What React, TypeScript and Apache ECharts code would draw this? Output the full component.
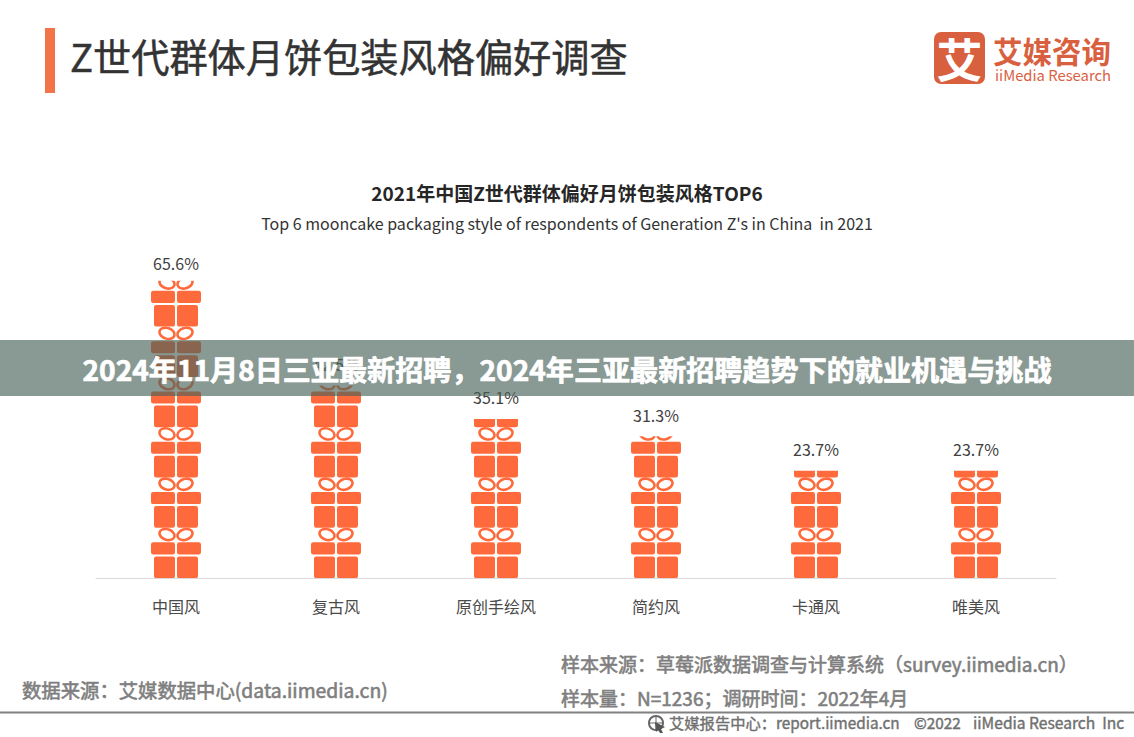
import React, { useEffect, useRef } from "react";
import * as echarts from "echarts";

const categories = ["中国风", "复古风", "原创手绘风", "简约风", "卡通风", "唯美风"];
const shares = [65.6, 42.5, 35.1, 31.3, 23.7, 23.7];
const FONT = '"Noto Sans CJK SC", "Noto Sans", sans-serif';
const ORANGE = "#FF6A3C";

const box = (x0: number, y0: number, x1: number, y1: number, r: number) =>
  `M${x0 + r} ${y0}L${x1 - r} ${y0}Q${x1} ${y0} ${x1} ${y0 + r}L${x1} ${y1 - r}Q${x1} ${y1} ${x1 - r} ${y1}L${x0 + r} ${y1}Q${x0} ${y1} ${x0} ${y1 - r}L${x0} ${y0 + r}Q${x0} ${y0} ${x0 + r} ${y0}Z`;
// Rotated ellipse drawn with four cubic curves; dir = 1 or -1 sets the winding.
const ellipse = (cx: number, cy: number, rx: number, ry: number, rot: number, dir: number) => {
  const k = 0.5523;
  const p = (u: number, v: number) => {
    const a = u * rx;
    const b = v * ry * dir;
    return `${(cx + a * Math.cos(rot) - b * Math.sin(rot)).toFixed(2)} ${(cy + a * Math.sin(rot) + b * Math.cos(rot)).toFixed(2)}`;
  };
  return (
    `M${p(1, 0)}` +
    `C${p(1, k)} ${p(k, 1)} ${p(0, 1)}` +
    `C${p(-k, 1)} ${p(-1, k)} ${p(-1, 0)}` +
    `C${p(-1, -k)} ${p(-k, -1)} ${p(0, -1)}` +
    `C${p(k, -1)} ${p(1, -k)} ${p(1, 0)}Z`
  );
};
const loop = (cx: number, cy: number, rx: number, ry: number, rot: number) =>
  ellipse(cx, cy, rx, ry, rot, 1) + ellipse(cx, cy, rx - 2.6, ry - 2.6, rot, -1);

// One gift unit, 50 wide by 50.6 tall: bow, lid, box.
const giftPath =
  "path://M0 0L0 0ZM50 50.6L50 50.6Z" +
  loop(16, 7.2, 9, 6.6, 0.32) +
  loop(34, 7.2, 9, 6.6, -0.32) +
  box(0, 15, 24, 27, 2.2) +
  box(26, 15, 50, 27, 2.2) +
  box(3, 29, 24, 50.6, 2.2) +
  box(26, 29, 47, 50.6, 2.2);

export default function App() {
  const ref = useRef<HTMLDivElement>(null);
  useEffect(() => {
    const chart = echarts.init(ref.current!, null, { renderer: "svg" });
    const t = (x: number, y: number, text: string, fontSize: number, fill: string, fontWeight: any = 400, textAlign: any = "left", thicken = 0) => ({
      type: "text",
      x,
      y,
      z: 5,
      style: { text, fontSize, fill, fontWeight, textAlign, textVerticalAlign: "middle", fontFamily: FONT, stroke: thicken ? fill : undefined, lineWidth: thicken },
    });
    chart.setOption({
      animation: false,
      backgroundColor: "#ffffff",
      grid: { left: 96, right: 78, top: 125, height: 453 },
      xAxis: {
        type: "category",
        data: categories,
        axisTick: { show: false },
        axisLine: { lineStyle: { color: "#d9d9d9", width: 1 } },
        axisLabel: { color: "#4a4a4a", fontSize: 16, fontFamily: FONT, margin: 20 },
      },
      yAxis: { type: "value", min: 0, max: 100, show: false, splitLine: { show: false } },
      series: [
        {
          type: "pictorialBar",
          data: shares,
          symbol: giftPath,
          symbolSize: [50, 50.6],
          symbolRepeat: true,
          symbolClip: true,
          symbolPosition: "start",
          symbolMargin: 0,
          itemStyle: { color: ORANGE },
          z: 2,
        },
        {
          type: "bar",
          data: shares.map((value, i) => (i === 0 ? { value, label: { distance: 10 } } : value)),
          barWidth: 50,
          barGap: "-100%",
          itemStyle: { color: "rgba(0,0,0,0)" },
          z: 3,
          label: {
            show: true,
            position: "top",
            distance: 13.5,
            formatter: "{c}%",
            color: "#404040",
            fontSize: 16,
            fontFamily: FONT,
          },
        },
      ],
      graphic: [
        { type: "rect", z: 5, shape: { x: 45, y: 28, width: 10, height: 65 }, style: { fill: "#F4744A" } },
        t(70, 55, "Z世代群体月饼包装风格偏好调查", 38.2, "#333333", 400, "left", 0.5),
        { type: "rect", z: 5, shape: { x: 934, y: 32, width: 51, height: 52, r: 7 }, style: { fill: "#D9603F" } },
        t(959.5, 57, "艾", 46, "#ffffff", 700, "center"),
        t(993, 50, "艾媒咨询", 29.5, "#D9603F", 700),
        t(995, 74, "iiMedia Research", 14.8, "#D9603F", 400),
        t(567, 192, "2021年中国Z世代群体偏好月饼包装风格TOP6", 19, "#262626", 700, "center"),
        t(567, 223, "Top 6 mooncake packaging style of respondents of Generation Z's in China  in 2021", 16, "#333333", 400, "center"),
        t(561, 663, "样本来源：草莓派数据调查与计算系统（survey.iimedia.cn）", 19, "#7f7f7f", 400, "left", 0.6),
        t(561, 697, "样本量：N=1236；调研时间：2022年4月", 19, "#7f7f7f", 400, "left", 0.6),
        t(22, 690, "数据来源：艾媒数据中心(data.iimedia.cn)", 19.35, "#7f7f7f", 400, "left", 0.6),
        { type: "line", z: 5, shape: { x1: 0, y1: 712.5, x2: 1134, y2: 712.5 }, style: { stroke: "#808080", lineWidth: 2 } },
        { type: "circle", z: 5, shape: { cx: 656, cy: 723, r: 7 }, style: { fill: "none", stroke: "#666666", lineWidth: 2 } },
        { type: "line", z: 5, shape: { x1: 649, y1: 723, x2: 663, y2: 723 }, style: { stroke: "#666666", lineWidth: 1 } },
        { type: "line", z: 5, shape: { x1: 656, y1: 716, x2: 656, y2: 730 }, style: { stroke: "#666666", lineWidth: 1 } },
        { type: "polygon", z: 5, shape: { points: [[655, 722], [665, 727], [661, 729], [663, 733], [660, 733], [658, 730], [656, 732]] }, style: { fill: "#555555" } },
        t(669, 721.5, "艾媒报告中心：report.iimedia.cn", 15.3, "#707070", 400, "left", 0.4),
        t(914, 721.5, "©2022", 15.3, "#707070", 400, "left", 0.4),
        t(973, 721.5, "iiMedia Research  Inc", 15.6, "#707070", 400, "left", 0.4),
        { type: "rect", z: 100, shape: { x: 0, y: 340, width: 1134, height: 56 }, style: { fill: "rgba(74,98,89,0.65)" } },
        { type: "text", x: 567, y: 368, z: 101, style: { text: "2024年11月8日三亚最新招聘，2024年三亚最新招聘趋势下的就业机遇与挑战", fontSize: 28.1, fontWeight: 700, fill: "#ffffff", stroke: "#ffffff", lineWidth: 0.7, textAlign: "center", textVerticalAlign: "middle", fontFamily: FONT } },
      ],
    });
    return () => chart.dispose();
  }, []);
  return <div ref={ref} style={{ position: "absolute", left: 0, top: 0, width: 1134, height: 737 }} />;
}
